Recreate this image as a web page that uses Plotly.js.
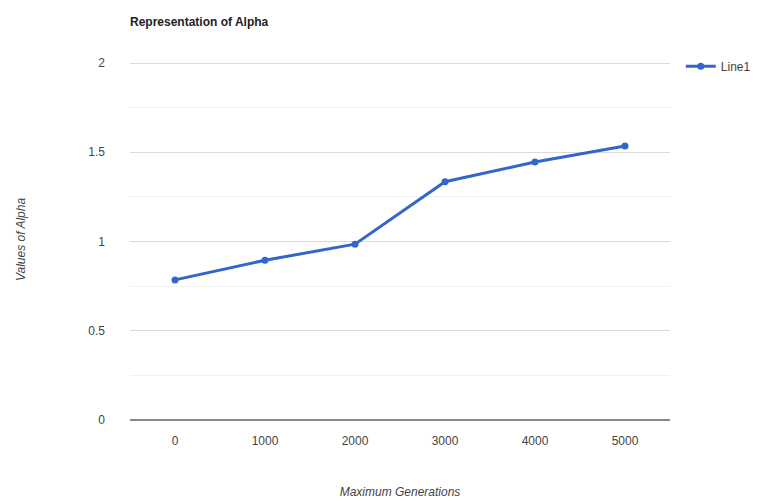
<!DOCTYPE html>
<html>
<head>
<meta charset="utf-8">
<script src="https://cdn.plot.ly/plotly-3.0.1.min.js"></script>
<style>html,body{margin:0;padding:0;background:#fff;}#chart{width:782px;height:501px;}</style>
</head>
<body>
<div id="chart"></div>
<script>
const categories = ["0", "1000", "2000", "3000", "4000", "5000"];
const alphaValues = [0.785, 0.895, 0.985, 1.335, 1.445, 1.535];
const seriesName = "Line1";
const yTickVals = [0, 0.5, 1, 1.5, 2];
const yTickText = ["0", "0.5", "1", "1.5", "2"];

const trace = {
  x: categories,
  y: alphaValues,
  type: "scatter",
  mode: "lines+markers",
  name: seriesName,
  line: {color: "#3366cc", width: 3},
  marker: {color: "#3366cc", size: 7}
};

const layout = {
  width: 782, height: 501,
  margin: {l: 130, r: 112, t: 59, b: 81},
  paper_bgcolor: "#fff", plot_bgcolor: "#fff",
  font: {family: "Liberation Sans, Arial, sans-serif", size: 12, color: "#444"},
  title: {text: "<b>Representation of Alpha</b>", x: 130/782, xanchor: "left", y: 1 - 22/501, yanchor: "middle",
          font: {size: 12, color: "#222"}},
  showlegend: true,
  legend: {x: 1.02, xanchor: "left", y: 1.02, yanchor: "top", font: {size: 12, color: "#444"}, bgcolor: "rgba(0,0,0,0)"},
  xaxis: {
    type: "category", range: [-0.5, 5.5],
    showgrid: false, zeroline: false, showline: false, ticks: "",
    ticklabelstandoff: 12,
    tickfont: {size: 12, color: "#444"},
    title: {text: "<i>Maximum Generations</i>", standoff: 40, font: {size: 12, color: "#444"}}
  },
  yaxis: {
    range: [0, 2.0224], tickvals: yTickVals, ticktext: yTickText,
    showgrid: true, gridcolor: "#dadada", gridwidth: 1,
    minor: {dtick: 0.25, tick0: 0, showgrid: true, gridcolor: "#f0f0f0", gridwidth: 1},
    zeroline: true, zerolinecolor: "#888", zerolinewidth: 2,
    showline: false, ticks: "", ticklabelstandoff: 24,
    tickfont: {size: 12, color: "#444"},
    title: {text: "<i>Values of Alpha</i>", standoff: 60, font: {size: 12, color: "#444"}}
  }
};

Plotly.newPlot("chart", [trace], layout, {displayModeBar: false, staticPlot: true});
</script>
</body>
</html>
